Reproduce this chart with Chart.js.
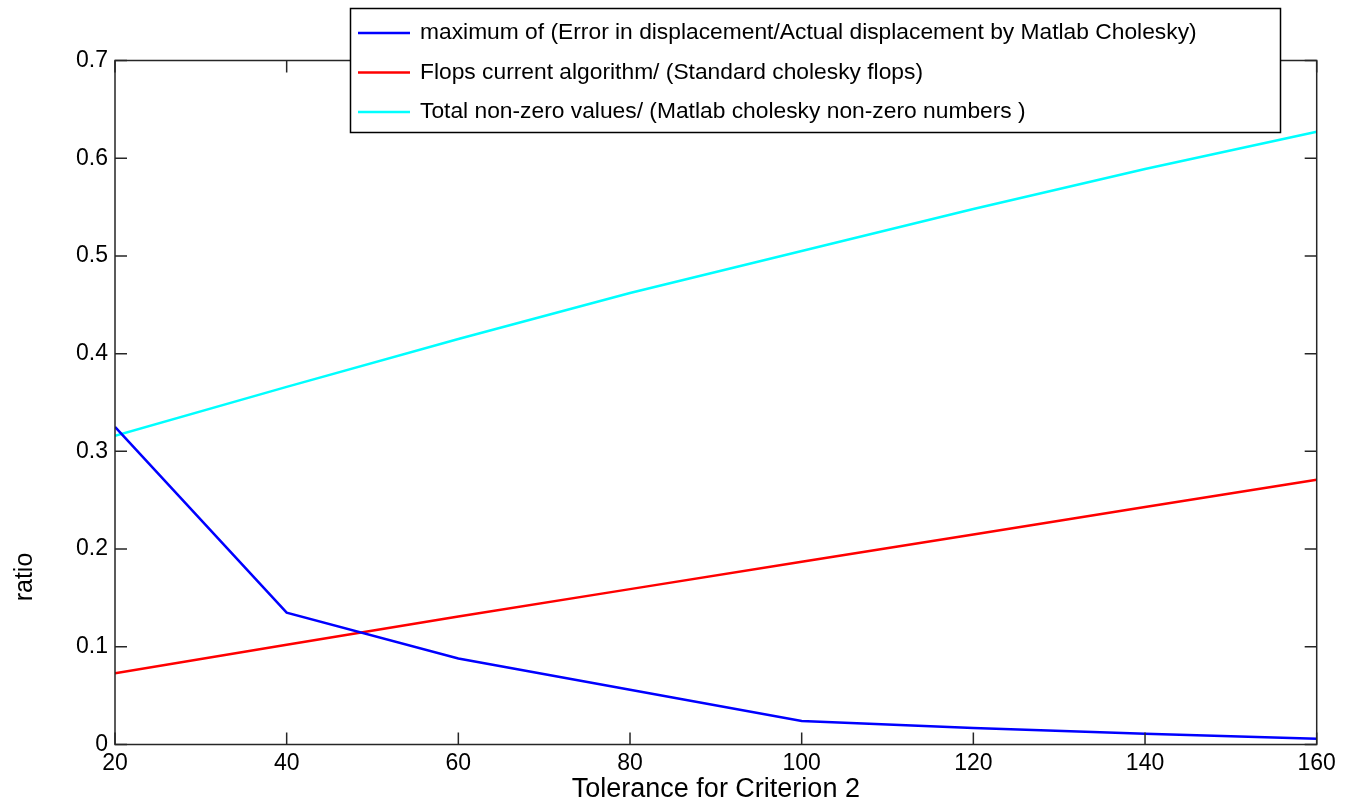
<!DOCTYPE html>
<html>
<head>
<meta charset="utf-8">
<title>ratio vs Tolerance for Criterion 2</title>
<script src="https://cdn.jsdelivr.net/npm/chart.js@4.4.1/dist/chart.umd.min.js"></script>
<style>
  html, body { margin: 0; padding: 0; background: #fff; }
  canvas { display: block; }
</style>
</head>
<body>
<canvas id="chart" width="1354" height="806"></canvas>
<script>
// values
const tolerance = [20, 40, 60, 80, 100, 120, 140, 160];
const maxErrorRatio = [0.325, 0.135, 0.088, 0.056, 0.024, 0.017, 0.011, 0.006];
const flopsRatio = [0.073, 0.102, 0.131, 0.159, 0.187, 0.215, 0.243, 0.271];
const nonZeroRatio = [0.316, 0.366, 0.415, 0.462, 0.505, 0.548, 0.589, 0.627];

const seriesLabels = [
    'maximum of (Error in displacement/Actual displacement by Matlab Cholesky)',
    'Flops current algorithm/ (Standard cholesky flops)',
    'Total non-zero values/ (Matlab cholesky non-zero numbers )'
];
const seriesColors = ['#0000ff', '#ff0000', '#00ffff'];

const xTickValues = [20, 40, 60, 80, 100, 120, 140, 160];
const yTickValues = [0, 0.1, 0.2, 0.3, 0.4, 0.5, 0.6, 0.7];

const FONT = '"Liberation Sans", Arial, Helvetica, sans-serif';
const AXIS_COLOR = '#262626';

const toPoints = (ys) => tolerance.map((x, i) => ({x: x, y: ys[i]}));

// box round the axes with inward ticks on all four sides, like matlab
const matlabBox = {
    id: 'matlabBox',
    afterDatasetsDraw(chart) {
        const {ctx, chartArea: a, scales: {x, y}} = chart;
        const len = 12;
        ctx.save();
        ctx.strokeStyle = AXIS_COLOR;
        ctx.lineWidth = 1.5;
        ctx.beginPath();
        xTickValues.forEach(v => {
            const px = x.getPixelForValue(v);
            ctx.moveTo(px, a.bottom);
            ctx.lineTo(px, a.bottom - len);
            ctx.moveTo(px, a.top);
            ctx.lineTo(px, a.top + len);
        });
        yTickValues.forEach(v => {
            const py = y.getPixelForValue(v);
            ctx.moveTo(a.left, py);
            ctx.lineTo(a.left + len, py);
            ctx.moveTo(a.right, py);
            ctx.lineTo(a.right - len, py);
        });
        ctx.stroke();
        ctx.strokeRect(a.left, a.top, a.right - a.left, a.bottom - a.top);

        // y title sits low on the left, as in the figure
        ctx.fillStyle = '#000';
        ctx.font = '25px ' + FONT;
        ctx.textAlign = 'center';
        ctx.textBaseline = 'middle';
        ctx.translate(25, 577);
        ctx.rotate(-Math.PI / 2);
        ctx.fillText('ratio', 0, 0);
        ctx.restore();
    }
};

// legend box overlapping the top edge of the axes
const boxLegend = {
    id: 'boxLegend',
    afterDraw(chart) {
        const ctx = chart.ctx;
        ctx.save();
        ctx.fillStyle = '#fff';
        ctx.fillRect(350, 8, 930, 124);
        ctx.strokeStyle = '#000';
        ctx.lineWidth = 1.5;
        ctx.strokeRect(350.5, 8.5, 930, 124);
        ctx.font = '22.8px ' + FONT;
        ctx.textBaseline = 'middle';
        ctx.textAlign = 'left';
        chart.data.datasets.forEach((ds, i) => {
            const ly = 33 + i * 39.5;
            ctx.strokeStyle = ds.borderColor;
            ctx.lineWidth = 2.5;
            ctx.beginPath();
            ctx.moveTo(358, ly);
            ctx.lineTo(410, ly);
            ctx.stroke();
            ctx.fillStyle = '#000';
            ctx.fillText(ds.label, 420, ly);
        });
        ctx.restore();
    }
};

const series = [maxErrorRatio, flopsRatio, nonZeroRatio];

new Chart(document.getElementById('chart'), {
    type: 'line',
    data: {
        datasets: series.map((ys, i) => ({
            label: seriesLabels[i],
            data: toPoints(ys),
            borderColor: seriesColors[i],
            backgroundColor: seriesColors[i],
            borderWidth: 2.5,
            pointRadius: 0,
            tension: 0,
            fill: false
        }))
    },
    options: {
        responsive: false,
        animation: false,
        layout: {padding: {left: 0, right: 37.3, top: 60.5, bottom: 0}},
        plugins: {
            legend: {display: false},
            tooltip: {enabled: false}
        },
        scales: {
            x: {
                type: 'linear',
                min: 20,
                max: 160,
                afterBuildTicks: (s) => { s.ticks = xTickValues.map(v => ({value: v})); },
                afterFit: (s) => { s.height = 61.5; },
                grid: {display: false},
                border: {display: false},
                ticks: {
                    color: '#000',
                    font: {family: FONT, size: 23},
                    padding: -3,
                    maxRotation: 0
                },
                title: {
                    display: true,
                    text: 'Tolerance for Criterion 2',
                    color: '#000',
                    font: {family: FONT, size: 27},
                    padding: {top: 0, bottom: 0}
                }
            },
            y: {
                type: 'linear',
                min: 0,
                max: 0.7,
                afterBuildTicks: (s) => { s.ticks = yTickValues.map(v => ({value: v})); },
                afterFit: (s) => { s.width = 115; },
                grid: {display: false},
                border: {display: false},
                ticks: {
                    color: '#000',
                    font: {family: FONT, size: 23},
                    padding: -1
                }
            }
        }
    },
    plugins: [matlabBox, boxLegend]
});
</script>
</body>
</html>
